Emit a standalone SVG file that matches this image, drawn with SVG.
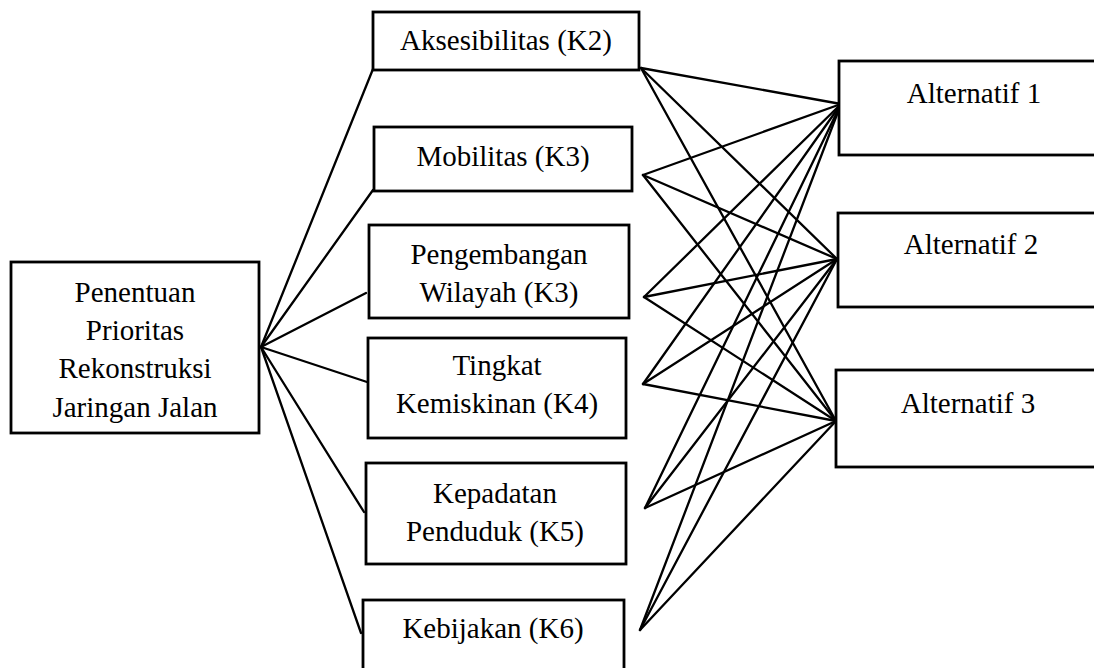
<svg xmlns="http://www.w3.org/2000/svg" width="1094" height="668" viewBox="0 0 1094 668">
  <style>
    .box { fill: #ffffff; stroke: #000000; stroke-width: 2.8; }
    .lbl { font-family: "Liberation Serif", "Times New Roman", serif; font-size: 29px; fill: #000000; text-anchor: middle; }
    .link { stroke: #000000; stroke-width: 2.3; fill: none; stroke-linecap: round; }
  </style>
  <rect width="1094" height="668" fill="#ffffff"/>

  <!-- connectors -->
  <g id="connectors">
    <!-- goal to criteria -->
    <line class="link" x1="261" y1="347" x2="373" y2="69"/>
    <line class="link" x1="261" y1="347" x2="373" y2="190"/>
    <line class="link" x1="261" y1="347" x2="366" y2="293"/>
    <line class="link" x1="261" y1="347" x2="367" y2="382"/>
    <line class="link" x1="261" y1="347" x2="364" y2="512"/>
    <line class="link" x1="261" y1="347" x2="361" y2="633"/>
    <!-- criteria to alternatives -->
    <line class="link" x1="641" y1="68" x2="841" y2="104"/>
    <line class="link" x1="641" y1="68" x2="837" y2="259"/>
    <line class="link" x1="641" y1="68" x2="836" y2="421"/>
    <line class="link" x1="643" y1="175" x2="841" y2="104"/>
    <line class="link" x1="643" y1="175" x2="837" y2="259"/>
    <line class="link" x1="643" y1="175" x2="836" y2="421"/>
    <line class="link" x1="644" y1="297" x2="841" y2="104"/>
    <line class="link" x1="644" y1="297" x2="837" y2="259"/>
    <line class="link" x1="644" y1="297" x2="836" y2="421"/>
    <line class="link" x1="643" y1="384" x2="841" y2="104"/>
    <line class="link" x1="643" y1="384" x2="837" y2="259"/>
    <line class="link" x1="643" y1="384" x2="836" y2="421"/>
    <line class="link" x1="645" y1="508" x2="841" y2="104"/>
    <line class="link" x1="645" y1="508" x2="837" y2="259"/>
    <line class="link" x1="645" y1="508" x2="836" y2="421"/>
    <line class="link" x1="640" y1="630" x2="841" y2="104"/>
    <line class="link" x1="640" y1="630" x2="837" y2="259"/>
    <line class="link" x1="640" y1="630" x2="836" y2="421"/>
  </g>

  <!-- goal -->
  <g id="goal">
    <rect class="box" x="11" y="262" width="248" height="171"/>
    <text class="lbl" x="135" y="302">Penentuan</text>
    <text class="lbl" x="135" y="340">Prioritas</text>
    <text class="lbl" x="135" y="378">Rekonstruksi</text>
    <text class="lbl" x="135" y="417">Jaringan Jalan</text>
  </g>

  <!-- criteria -->
  <g id="k2">
    <rect class="box" x="373" y="12" width="266" height="58"/>
    <text class="lbl" x="506" y="50">Aksesibilitas (K2)</text>
  </g>
  <g id="k3-mobilitas">
    <rect class="box" x="374" y="127" width="258" height="64"/>
    <text class="lbl" x="503" y="166">Mobilitas (K3)</text>
  </g>
  <g id="k3-wilayah">
    <rect class="box" x="369" y="225" width="260" height="93"/>
    <text class="lbl" x="499" y="264">Pengembangan</text>
    <text class="lbl" x="499" y="302">Wilayah (K3)</text>
  </g>
  <g id="k4">
    <rect class="box" x="368" y="338" width="258" height="100"/>
    <text class="lbl" x="497" y="375">Tingkat</text>
    <text class="lbl" x="497" y="413">Kemiskinan (K4)</text>
  </g>
  <g id="k5">
    <rect class="box" x="366" y="463" width="260" height="101"/>
    <text class="lbl" x="495" y="503">Kepadatan</text>
    <text class="lbl" x="495" y="541">Penduduk (K5)</text>
  </g>
  <g id="k6">
    <rect class="box" x="363" y="600" width="261" height="90"/>
    <text class="lbl" x="493" y="638">Kebijakan (K6)</text>
  </g>

  <!-- alternatives -->
  <g id="alt1">
    <rect class="box" x="839" y="61" width="280" height="94"/>
    <text class="lbl" x="974" y="103">Alternatif 1</text>
  </g>
  <g id="alt2">
    <rect class="box" x="838" y="213" width="280" height="94"/>
    <text class="lbl" x="971" y="254">Alternatif 2</text>
  </g>
  <g id="alt3">
    <rect class="box" x="836" y="370" width="280" height="97"/>
    <text class="lbl" x="968" y="413">Alternatif 3</text>
  </g>
</svg>
